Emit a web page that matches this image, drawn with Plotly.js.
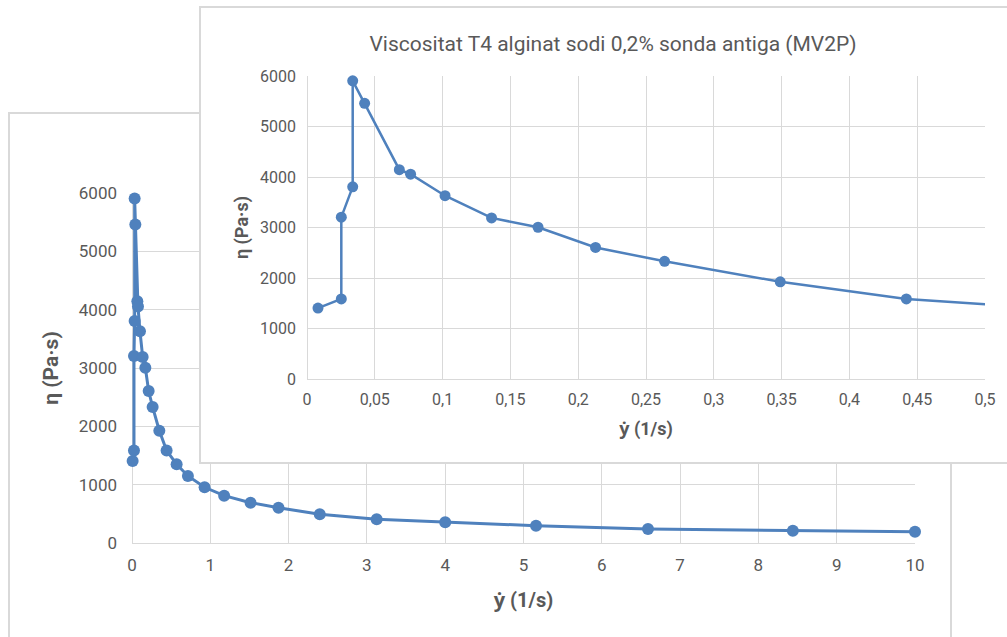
<!DOCTYPE html>
<html>
<head>
<meta charset="utf-8">
<script src="https://cdn.plot.ly/plotly-3.0.1.min.js"></script>
<style>
  html, body { margin: 0; padding: 0; width: 1007px; height: 637px; overflow: hidden; background: #ffffff; }
  .panel { position: absolute; background: #ffffff; border: 2px solid #d9d9d9; }
  #backWrap { left: 8px; top: 112px; width: 940px; height: 540px; }
  #insetWrap { left: 199px; top: 6px; width: 824px; height: 454px; }
</style>
</head>
<body>
<div id="backWrap" class="panel"><div id="back" style="width:940px;height:540px;"></div></div>
<div id="insetWrap" class="panel"><div id="inset" style="width:824px;height:454px;"></div></div>
<script>
// Shear rate (1/s)
const shearRate = [0.0081, 0.0253, 0.0253, 0.0337, 0.0337, 0.0425, 0.0681, 0.0764, 0.1018, 0.1361,
                   0.1704, 0.2128, 0.2637, 0.349, 0.442, 0.57, 0.714, 0.927, 1.177, 1.514,
                   1.871, 2.398, 3.125, 4.0, 5.16, 6.59, 8.44, 10.0];
// Viscosity (Pa·s)
const viscosity = [1405, 1585, 3205, 3805, 5905, 5460, 4145, 4055, 3630, 3190,
                   3005, 2605, 2330, 1925, 1585, 1350, 1150, 955, 811, 691,
                   605, 492, 406, 355, 297, 240, 211, 194];

const chartTitle = "Viscositat T4 alginat sodi 0,2% sonda antiga (MV2P)";
const xTitle = "ẏ (1/s)";
const yTitle = "η (Pa·s)";

const blue = "#4f81bd";
const grid = "#d9d9d9";
const txt = "#595959";
const fontFam = "Roboto, 'Open Sans', sans-serif";

function axisCommon(size) {
  return {
    showgrid: true, gridcolor: grid, gridwidth: 1,
    zeroline: true, zerolinecolor: grid, zerolinewidth: 1,
    showline: false, ticks: "",
    tickfont: {family: fontFam, size: size, color: txt},
    fixedrange: true
  };
}

// Back chart (0 - 10)
const backLayout = {
  width: 940, height: 540,
  margin: {l: 122, r: 35, t: 79, b: 111},
  paper_bgcolor: "#ffffff", plot_bgcolor: "#ffffff",
  showlegend: false,
  separators: ", ",
  xaxis: Object.assign(axisCommon(17), {
    range: [0, 10], dtick: 1, tick0: 0, ticklabelstandoff: 10,
    title: {text: xTitle, font: {family: fontFam, size: 20, color: txt, weight: "bold"}, standoff: 18}
  }),
  yaxis: Object.assign(axisCommon(17), {
    range: [0, 6000], dtick: 1000, tick0: 0, ticklabelstandoff: 14,
    title: {text: yTitle, font: {family: fontFam, size: 21, color: txt, weight: "bold"}, standoff: 14}
  })
};
const backTrace = {
  x: shearRate, y: viscosity, type: "scatter", mode: "lines+markers",
  line: {color: blue, width: 3},
  marker: {color: blue, size: 12},
  cliponaxis: false, hoverinfo: "skip"
};
Plotly.newPlot("back", [backTrace], backLayout, {staticPlot: true});

// Inset chart (0 - 0.5)
const insetLayout = {
  width: 824, height: 454,
  margin: {l: 106, r: 40, t: 68, b: 83},
  paper_bgcolor: "#ffffff", plot_bgcolor: "#ffffff",
  showlegend: false,
  separators: ", ",
  title: {text: chartTitle, font: {family: fontFam, size: 21, color: txt},
          x: 0.5, xanchor: "center", y: 0.922, yanchor: "middle"},
  xaxis: Object.assign(axisCommon(16), {
    range: [0, 0.5], dtick: 0.05, tick0: 0, ticklabelstandoff: 9,
    title: {text: xTitle, font: {family: fontFam, size: 18, color: txt, weight: "bold"}, standoff: 14}
  }),
  yaxis: Object.assign(axisCommon(16), {
    range: [0, 6000], dtick: 1000, tick0: 0, ticklabelstandoff: 10,
    title: {text: yTitle, font: {family: fontFam, size: 18, color: txt, weight: "bold"}, standoff: 6}
  })
};
const insetTrace = {
  x: shearRate, y: viscosity, type: "scatter", mode: "lines+markers",
  line: {color: blue, width: 2.5},
  marker: {color: blue, size: 11},
  cliponaxis: false, hoverinfo: "skip"
};
Plotly.newPlot("inset", [insetTrace], insetLayout, {staticPlot: true});
</script>
</body>
</html>
